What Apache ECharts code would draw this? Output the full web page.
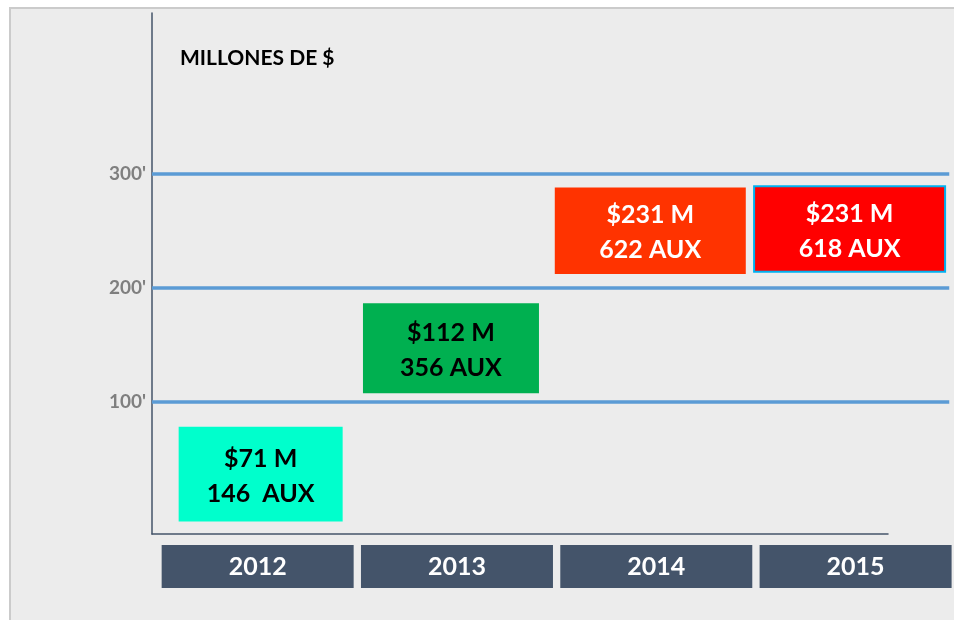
<!DOCTYPE html>
<html>
<head>
<meta charset="utf-8">
<script src="https://cdn.jsdelivr.net/npm/echarts@6/dist/echarts.min.js"></script>
<style>
  html, body { margin: 0; padding: 0; background: #fff; }
  #frame {
    position: absolute; left: 9px; top: 7px; right: 0; bottom: 0;
    background: #ececec;
    border-top: 2px solid #cbcbcb;
    border-left: 2px solid #cbcbcb;
  }
  #chart { position: absolute; left: 0; top: 0; width: 954px; height: 620px; }
</style>
</head>
<body>
<div id="frame"></div>
<div id="chart"></div>
<script>
const years = ['2012', '2013', '2014', '2015'];
const millions = [71, 112, 231, 231];
const auxCount = [146, 356, 622, 618];
// where each box sits on the value scale
const boxLow = [-5, 107.5, 212, 214];
const boxHigh = [78, 186.5, 288, 289];
const gridValues = [100, 200, 300];

// look
const boxColors = ['#00ffcc', '#00b050', '#ff3300', '#ff0000'];
const textColors = ['#000', '#000', '#fff', '#fff'];
const boxWidth = [164, 176, 191, 191];
const boxShift = [9, 0, 0, 0];

const font = 'Lato, "Noto Sans", sans-serif';

const chart = echarts.init(document.getElementById('chart'));

const option = {
  animation: false,
  backgroundColor: 'transparent',
  title: {
    text: 'MILLONES DE $',
    left: 175,
    top: 43,
    textStyle: { fontFamily: font, fontSize: 21, fontWeight: 'bold', color: '#000' }
  },
  grid: [
    { left: 152, right: 0, top: 13, bottom: 86 },
    { left: 152, right: 66, top: 13, bottom: 86 }
  ],
  xAxis: [
    {
      type: 'category',
      gridIndex: 0,
      data: years,
      axisLine: { show: false },
      axisTick: { show: false },
      axisLabel: {
        margin: 11,
        formatter: function (v) { return '{b|' + v + '}'; },
        padding: [0, 0, 0, 12],
        rich: {
          b: {
            backgroundColor: '#44546a',
            width: 192,
            height: 43,
            lineHeight: 43,
            align: 'center',
            color: '#fff',
            fontFamily: font,
            fontSize: 25,
            fontWeight: 'bold'
          }
        }
      }
    },
    {
      type: 'value',
      gridIndex: 1,
      min: 0,
      max: 1,
      axisLine: { show: true, lineStyle: { color: '#44546a', width: 1.5 } },
      axisTick: { show: false },
      axisLabel: { show: false },
      splitLine: { show: false }
    }
  ],
  yAxis: [
    {
      type: 'value',
      gridIndex: 0,
      min: -16,
      max: 441,
      show: false
    },
    {
      type: 'value',
      gridIndex: 1,
      min: 0,
      max: 1,
      axisLine: { show: true, lineStyle: { color: '#44546a', width: 1.5 } },
      axisTick: { show: false },
      axisLabel: { show: false },
      splitLine: { show: false }
    }
  ],
  series: [{
    type: 'custom',
    xAxisIndex: 0,
    yAxisIndex: 0,
    data: years.map(function (y, i) { return [i, boxLow[i], boxHigh[i]]; }),
    renderItem: function (params, api) {
      const i = params.dataIndex;
      const lo = api.coord([api.value(0), api.value(1)]);
      const hi = api.coord([api.value(0), api.value(2)]);
      const w = boxWidth[i];
      const label = '$' + millions[i] + ' M\n' + auxCount[i] + (i === 0 ? '  AUX' : ' AUX');
      return {
        type: 'rect',
        shape: { x: lo[0] - w / 2 + boxShift[i], y: hi[1], width: w, height: lo[1] - hi[1] },
        style: {
          fill: boxColors[i],
          stroke: i === 3 ? '#00b0f0' : null,
          lineWidth: i === 3 ? 2 : 0
        },
        textContent: {
          style: {
            text: label,
            fill: textColors[i],
            fontFamily: font,
            fontSize: 25,
            fontWeight: 'bold',
            lineHeight: 35,
            align: 'center'
          }
        },
        textConfig: { position: 'inside', offset: [0, 2] }
      };
    },
    markLine: {
      silent: true,
      symbol: 'none',
      lineStyle: { color: '#5b9bd5', width: 3.5, type: 'solid' },
      label: {
        position: 'start',
        distance: 6,
        formatter: function (p) { return p.value + "'"; },
        color: '#7f7f7f',
        fontFamily: font,
        fontSize: 19,
        fontWeight: 'bold'
      },
      data: gridValues.map(function (v) { return { yAxis: v }; })
    }
  }]
};

chart.setOption(option);
window.addEventListener('resize', function () {
  chart.resize();
});
</script>
</body>
</html>
